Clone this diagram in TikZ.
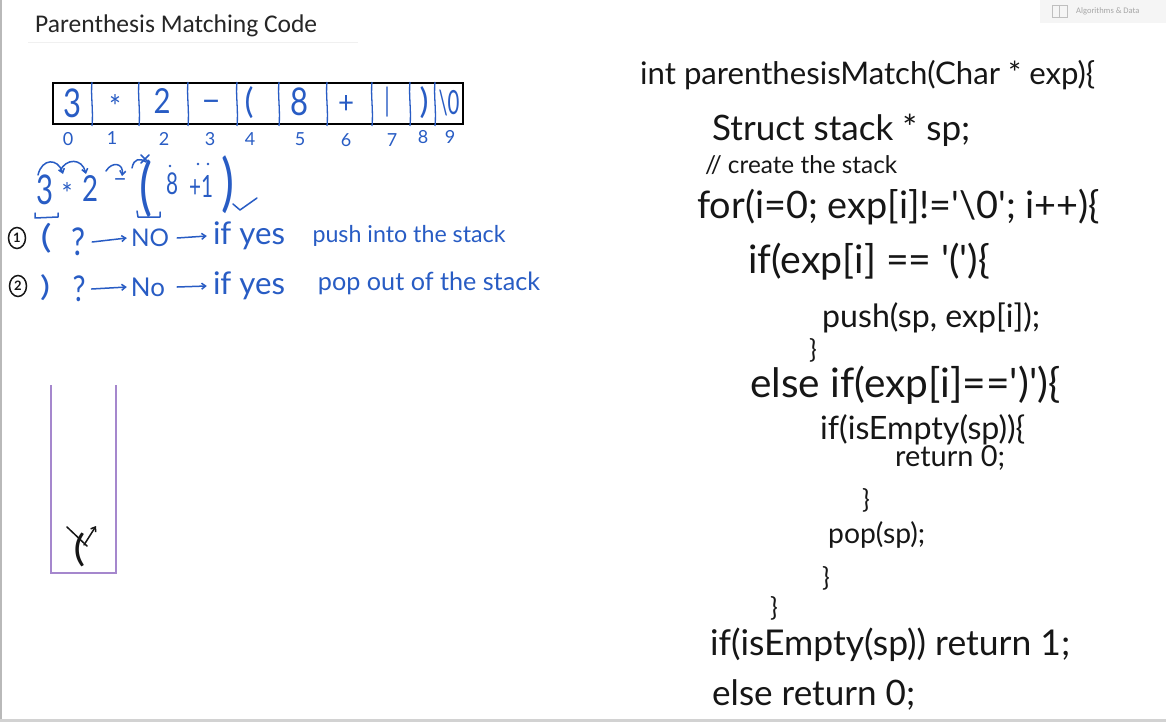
\documentclass[tikz,border=0pt]{standalone}
\usepackage{fontspec}
\usepackage{graphicx}
\setmainfont{Carlito}
\newfontfamily\hand{Lato}
\usetikzlibrary{arrows.meta,shapes.geometric}
\definecolor{ink}{RGB}{40,92,196}
\definecolor{pen}{RGB}{22,22,22}
\definecolor{stackc}{RGB}{165,135,205}
\newcommand{\hw}[2]{\resizebox{#1pt}{!}{#2}}
\newcommand{\hh}[2]{\resizebox{!}{#1pt}{#2}}
\newcommand{\hb}[3]{\resizebox*{#1pt}{#2pt}{#3}}
\tikzset{
  code/.style={anchor=west, inner sep=0pt, text=pen, font=\hand\fontsize{20}{24}\selectfont},
  note/.style={inner sep=0pt, text=ink, font=\hand\fontsize{20}{24}\selectfont},
  cell/.style={inner sep=0pt, text=ink, font=\hand\fontsize{20}{24}\selectfont},
  idx/.style={inner sep=0pt, text=ink, font=\hand\fontsize{18}{20}\selectfont},
  brace/.style={inner sep=0pt, text=pen, font=\hand\fontsize{26}{30}\selectfont},
  inkline/.style={draw=ink, line width=1.5pt, line cap=round, line join=round},
  inkarrow/.style={inkline, -{Straight Barb[length=4pt,width=6pt]}},
  num/.style={ellipse, draw=pen, line width=1.5pt, inner sep=0.5pt, minimum width=17pt, minimum height=21pt, text=pen, font=\hand\bfseries\fontsize{13}{14}\selectfont}
}
\begin{document}
\begin{tikzpicture}[x=1pt,y=-1pt]
\useasboundingbox (0,0) rectangle (1166,722);
\fill[white] (0,0) rectangle (1166,722);
% frame of the screen
\draw[gray!55, line width=2pt] (1,0) -- (1,722);
\draw[gray!35, line width=3pt] (0,720.5) -- (1166,720.5);
% tab top right
\fill[gray!8] (1040,0) rectangle (1166,23);
\draw[gray!50, line width=0.8pt] (1052,5) rectangle (1067,17);
\draw[gray!50, line width=0.8pt] (1059.5,5) -- (1059.5,17);
\node[anchor=west, inner sep=0pt, text=gray!70, font=\fontsize{8.5}{10}\selectfont] (tab) at (1076,11) {Algorithms \& Data};
% title
\node[anchor=west, inner sep=0pt, text=black!85, font=\fontsize{20}{24}\selectfont] (title) at (35,26) {\hw{282}{Parenthesis Matching Code}};
\draw[gray!12, line width=1pt] (28,43) -- (358,43);

% array
\draw[black, line width=2pt] (53,83) rectangle (463,124);
\foreach \x in {92,139,188,237,279,327,372,410,435}{
  \draw[ink, line width=1.3pt] (\x,82) .. controls (\x-1.5,95) and (\x+1.5,110) .. (\x,126);
}
\node[cell] (c0) at (72,103) {\hb{18}{29}{3}};
\node[cell] (c1) at (115,107) {\hb{12}{24}{*}};
\node[cell] (c2) at (162,101) {\hb{17}{25}{2}};
\node[cell] (c3) at (211,106) {\hw{20}{\textendash}};
\node[cell] (c4) at (249,103) {\hb{9}{32}{(}};
\node[cell] (c5) at (299,102) {\hb{18}{28}{8}};
\node[cell] (c6) at (346,104) {\hb{16}{18}{+}};
\node[cell] (c7) at (387,102) {\hb{5}{30}{|}};
\node[cell] (c8) at (424,103) {\hb{9}{32}{)}};
\node[cell] (c9) at (449,103) {\hb{21}{26}{\textbackslash 0}};
\node[idx] (i0) at (68,139) {0};
\node[idx] (i1) at (112,138) {1};
\node[idx] (i2) at (164,139) {2};
\node[idx] (i3) at (210,139) {3};
\node[idx] (i4) at (250,139) {4};
\node[idx] (i5) at (300,139) {5};
\node[idx] (i6) at (346,140) {6};
\node[idx] (i7) at (392,140) {7};
\node[idx] (i8) at (423,137) {8};
\node[idx] (i9) at (450,137) {9};

% expression being scanned
\node[note] (e3) at (45,190) {\hb{17}{30}{3}};
\node[note] (es) at (67,193) {\hb{11}{22}{*}};
\node[note] (e2) at (90,188) {\hb{16}{26}{2}};
\node[note] (em) at (120,183) {\hw{14}{\textendash}};
\node[note] (elp) at (146,189) {\hb{13}{58}{(}};
\node[note] (e8) at (172,184) {\hb{12}{22}{8}};
\node[note] (ep) at (201,186) {\hb{24}{22}{+1}};
\node[note] (erp) at (228,185) {\hb{13}{58}{)}};
\draw[inkarrow] (38,175) .. controls (42,158) and (58,158) .. (63,174);
\draw[inkarrow] (60,171) .. controls (66,158) and (82,158) .. (86,174);
\draw[inkarrow] (106,171) .. controls (112,161) and (124,163) .. (122,176);
\draw[inkline] (132,168) .. controls (134,158) and (140,158) .. (146,162);
\draw[inkline] (141,155) -- (149,163);
\draw[inkline] (149,155) -- (141,163);
\fill[ink] (170,166) circle (1.3pt) (198,164) circle (1.3pt) (208,164) circle (1.3pt);
\draw[inkline] (35,213) -- (35,218) -- (58,217) -- (58,213);
\draw[inkline] (137,211) -- (138,217) -- (160,217) -- (160,212);
\draw[inkline] (233,204) -- (240,210) -- (257,198);

% rules
\node[num] (n1) at (17,238) {1};
\node[note] (l1p) at (46,238) {\hb{11}{30}{(}};
\node[note] (l1q) at (79,242) {\hb{14}{28}{?}};
\node[note] (l1no) at (150,238) {\hw{38}{NO}};
\node[note] (l1if) at (249,236) {\hw{72}{if yes}};
\node[note] (l1push) at (409,236) {\hw{193}{push into the stack}};
\draw[inkarrow] ([xshift=6pt]l1q.east) -- ([xshift=-4pt]l1no.west);
\draw[inkarrow] ([xshift=8pt]l1no.east) -- ([xshift=-6pt]l1if.west);

\node[num] (n2) at (18,286) {2};
\node[note] (l2p) at (45,288) {\hb{10}{26}{)}};
\node[note] (l2q) at (79,289) {\hb{13}{26}{?}};
\node[note] (l2no) at (148,287) {\hw{34}{No}};
\node[note] (l2if) at (249,286) {\hw{72}{if yes}};
\node[note] (l2pop) at (429,283) {\hw{222}{pop out of the stack}};
\draw[inkarrow] ([xshift=6pt]l2q.east) -- ([xshift=-4pt]l2no.west);
\draw[inkarrow] ([xshift=12pt]l2no.east) -- ([xshift=-6pt]l2if.west);

% stack
\draw[stackc, line width=2pt] (51,385) -- (51,573) -- (116,573) -- (116,385);
\node[inner sep=0pt, text=pen] (sx) at (79,550) {\hb{14}{34}{(}};
\draw[pen, line width=1.5pt, line cap=round] (67,527) -- (87,546);
\draw[pen, line width=1.5pt, line cap=round, -{Straight Barb[length=4pt,width=6pt]}] (84,545) -- (96,526);

% code
\node[code] (k1) at (640,75) {\hw{455}{int parenthesisMatch(Char * exp)\{}};
\node[code] (k2) at (712,130) {\hw{258}{Struct stack * sp;}};
\node[code] (k3) at (705,165) {\hw{192}{// create the stack}};
\node[code] (k4) at (697,207) {\hw{403}{for(i=0; exp[i]!='\textbackslash 0'; i++)\{}};
\node[code] (k5) at (748,262) {\hw{242}{if(exp[i] == '(')\{}};
\node[code] (k6) at (822,318) {\hw{218}{push(sp, exp[i]);}};
\node[brace] (k7) at (813,350) {\}};
\node[code] (k8) at (750,385) {\hw{310}{else if(exp[i]==')')\{}};
\node[code] (k9) at (820,430) {\hw{205}{if(isEmpty(sp))\{}};
\node[code] (k10) at (895,458) {\hw{110}{return 0;}};
\node[brace] (k11) at (866,500) {\}};
\node[code] (k12) at (828,535) {\hw{97}{pop(sp);}};
\node[brace] (k13) at (826,578) {\}};
\node[brace] (k14) at (774,608) {\}};
\node[code] (k15) at (710,645) {\hw{360}{if(isEmpty(sp)) return 1;}};
\node[code] (k16) at (712,695) {\hw{203}{else return 0;}};
\end{tikzpicture}
\end{document}
